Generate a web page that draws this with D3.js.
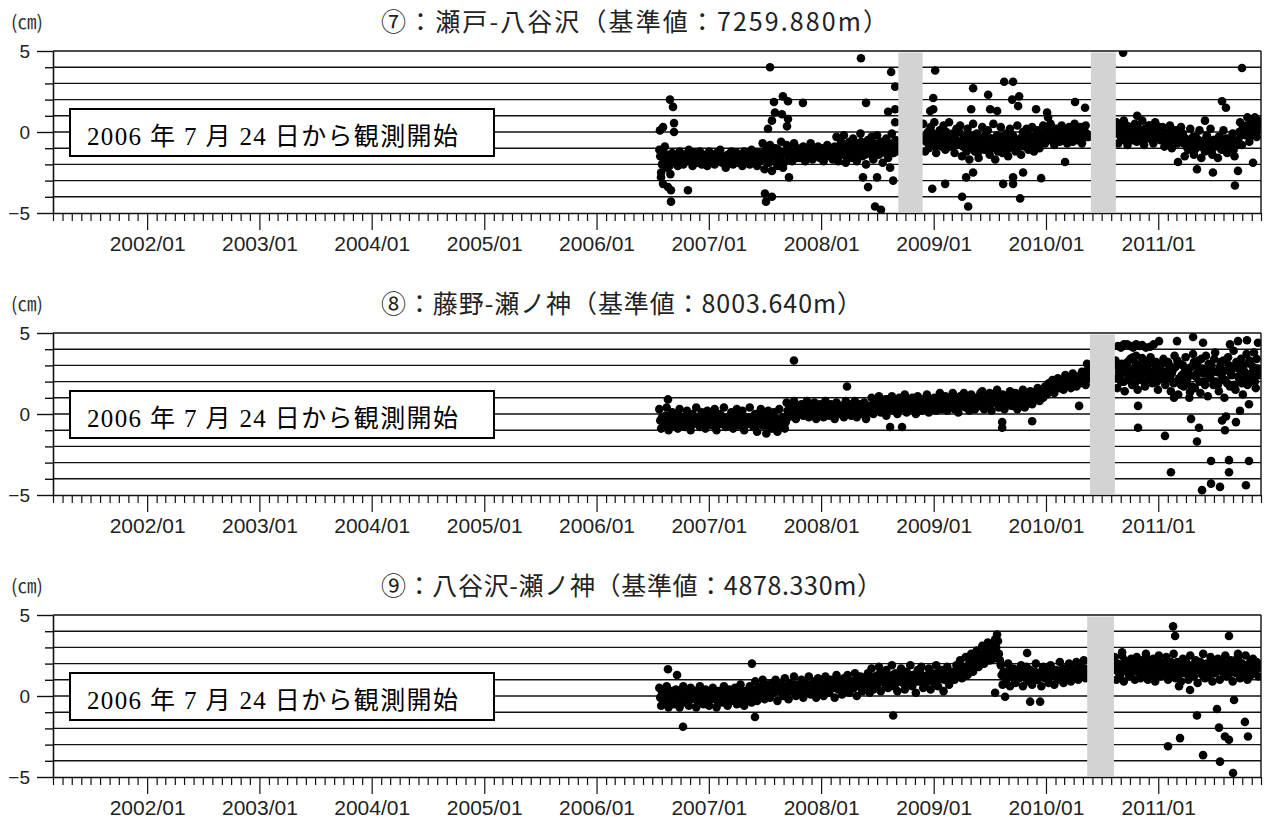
<!DOCTYPE html>
<html>
<head>
<meta charset="utf-8">
<script src="https://cdn.jsdelivr.net/npm/d3@7"></script>
<style>
body { margin: 0; background: #fff; }
</style>
</head>
<body>
<svg id="chart" width="1266" height="825"></svg>
<script>
// panel titles and note
var titles = ['⑦：瀬戸-八谷沢（基準値：7259.880m）',
              '⑧：藤野-瀬ノ神（基準値：8003.640m）',
              '⑨：八谷沢-瀬ノ神（基準値：4878.330m）'];
var noteText = '2006 年 7 月 24 日から観測開始';
var yTicks = [-5, -4, -3, -2, -1, 0, 1, 2, 3, 4, 5];

// observations every 6 days, one array per run between gaps (cm);
// the "b" arrays are the readings 3 days later
var p7Starts = ['2006-07-24', '2008-11-28', '2010-08-18'];
var p7Seg1 = [-1.1,-2.5,-1.6,-0.9,-2.2,-1.8,-2.6,
  -1.3,-1.9,-1.6,-2.1,-1.2,-1.7,-2.0,-1.4,-1.8,-1.1,
  -1.6,-2.1,-1.3,-1.9,-1.5,-1.2,-2.0,-1.7,-1.4,-2.1,
  -1.2,-1.8,-1.5,-2.0,-1.3,-1.7,-1.1,-1.9,-1.6,-2.2,
  -1.4,-1.8,-1.2,-2.0,-1.6,-1.3,-1.9,-1.5,-2.1,-1.2,
  -1.7,-1.4,-2.0,-1.1,-1.8,-1.5,-2.1,-1.3,-1.6,
  -0.7,-2.3,-1.2,-1.9,-0.8,-2.4,-1.5,-1.0,-2.1,-1.6,-0.6,-2.2,-1.3,
  -0.8,-1.7,-1.2,-1.8,-0.7,-1.4,-1.0,-1.6,-1.3,-0.9,
  -1.8,-1.1,-1.5,-0.7,-1.7,-1.2,-1.4,-0.9,-1.6,-1.0,
  -1.8,-1.3,-0.8,-1.5,-1.1,-1.7,-0.9,
  -0.3,-1.8,-0.8,-1.4,-0.2,-1.9,-1.1,-0.6,-1.6,-0.4,
  -1.2,-1.8,-0.7,-0.1,-1.5,-1.0,-2.0,-0.5,-1.3,-0.3,
  -1.7,-0.9,-0.2,-1.4,-0.6,-1.9,-1.1,-0.4,-1.6,-0.8,
  -0.1,-1.3,-0.5,-1.0];
var p7Seg1b = [-1.5,-2.0,-1.3,-1.8,-1.4,-2.1,-1.7,
  -1.7,-1.4,-1.8,-1.5,-1.6,-1.9,-1.4,-1.7,-1.5,-1.6,
  -1.4,-1.8,-1.7,-1.5,-1.9,-1.6,-1.4,-1.8,-1.5,-1.7,
  -1.6,-1.4,-1.9,-1.5,-1.8,-1.4,-1.6,-1.7,-1.5,-1.8,
  -1.6,-1.4,-1.7,-1.5,-1.9,-1.6,-1.4,-1.8,-1.5,-1.7,
  -1.5,-1.8,-1.4,-1.6,-1.7,-1.3,-1.6,-1.8,-1.4,
  -1.3,-1.7,-1.0,-1.9,-1.4,-1.2,-1.8,-1.5,-1.1,-1.7,-1.4,-1.9,-1.2,
  -1.3,-1.1,-1.5,-1.3,-1.2,-1.6,-1.4,-1.1,-1.5,-1.3,
  -1.4,-1.2,-1.6,-1.3,-1.1,-1.5,-1.2,-1.4,-1.3,-1.6,
  -1.2,-1.5,-1.1,-1.3,-1.4,-1.2,-1.5,
  -1.0,-1.3,-0.6,-1.1,-0.9,-1.5,-0.7,-1.2,-1.0,-1.4,
  -0.8,-1.1,-1.3,-0.6,-1.0,-1.4,-0.8,-1.2,-0.9,-1.5,
  -0.7,-1.1,-1.3,-0.9,-1.2,-0.6,-1.0,-1.4,-0.8,-1.1,
  -0.7,-1.0,-1.2,-0.6];
var p7Seg2 = [0.5,-1.2,-0.2,-1.0,0.3,-0.7,0.6,-1.3,-0.4,0.1,
  -0.9,0.4,-1.1,-0.3,0.6,-0.8,-0.1,-1.3,0.2,-0.6,
  0.4,-1.5,-0.3,-1.0,0.2,-1.7,-0.6,0.5,-1.2,-0.1,
  -1.6,-0.5,0.3,-1.1,-0.8,0.1,-1.4,-0.4,0.5,-1.7,
  -0.2,-1.0,0.3,-1.3,-0.6,-0.1,-1.5,0.2,-0.9,-0.3,
  -1.2,0.4,-0.7,-1.4,0.0,
  -0.9,0.2,-1.1,-0.3,0.3,-1.2,-0.6,0.1,-1.0,-0.2,
  0.4,-0.7,0.0,-0.5,0.5,-0.3,-0.8,0.2,-0.1,-0.6,
  0.4,-0.4,0.1,-0.7,0.3,-0.2,-0.6,0.5,0.0,-0.4,
  0.3,-0.7,-0.1,0.4,-0.3];
var p7Seg2b = [-0.3,-0.6,0.0,-0.8,-0.4,-0.1,-0.9,-0.2,-0.6,-0.5,
  -0.3,-0.7,0.0,-0.5,-0.9,-0.2,-0.6,-0.4,-0.8,0.0,
  -0.6,-0.9,-0.3,-1.2,-0.7,-0.2,-1.0,-0.5,-0.8,-1.3,
  -0.4,-0.9,-0.6,-0.2,-1.1,-0.7,-0.4,-1.0,-0.6,-0.8,
  -1.2,-0.5,-0.3,-0.9,-0.6,-1.1,-0.4,-0.8,-0.2,-0.7,
  -1.0,-0.5,-0.9,-0.3,-0.6,
  -0.5,-0.7,-0.2,-0.8,-0.4,-0.6,-0.1,-0.9,-0.5,-0.3,
  -0.2,0.1,-0.4,-0.1,-0.3,0.2,-0.5,-0.2,0.1,-0.3,
  -0.1,-0.5,0.0,-0.2,-0.4,0.1,-0.3,-0.1,-0.5,0.2,
  -0.2,-0.4,0.0,-0.1,-0.3];
var p7Seg3 = [0.6,-0.7,0.1,-0.4,0.7,-0.2,-0.8,0.3,0.0,-0.5,
  0.5,-0.6,0.2,-0.3,0.7,-0.8,0.1,-0.4,0.4,-0.1,
  -0.7,0.6,-0.2,0.3,-0.5,
  0.3,-0.9,-0.1,-0.6,0.4,-1.0,-0.3,0.1,-0.7,-0.2,0.3,
  -0.1,-1.5,-0.5,-1.1,0.2,-0.8,-1.4,-0.3,-0.9,0.1,
  -1.6,-0.6,-1.2,-0.2,-1.0,0.2,-1.4,-0.5,-0.8,-1.6,
  -0.3,-1.1,0.1,-0.7,-1.3,-0.4,-1.0,-0.1,-1.5,-0.6,
  -0.5,0.6,-0.8,0.3,-0.2,0.9,-0.6,0.5,0.0,0.9,-0.3,0.7];
var p7Seg3b = [-0.1,0.3,-0.3,0.1,-0.5,0.4,-0.2,0.0,-0.4,0.2,
  -0.1,0.3,-0.3,0.0,-0.5,0.2,-0.2,0.4,-0.4,0.1,
  -0.1,-0.3,0.3,-0.2,0.1,
  -0.4,-0.1,-0.6,0.0,-0.3,-0.5,0.1,-0.4,-0.2,-0.6,-0.1,
  -0.7,-0.4,-1.0,-0.6,-0.8,-0.3,-1.1,-0.7,-0.5,-0.9,
  -0.6,-1.0,-0.4,-0.8,-0.6,-1.2,-0.5,-0.9,-0.7,-0.3,
  -1.0,-0.6,-0.8,-0.4,-0.9,-0.7,-0.5,-1.1,-0.6,-0.8,
  0.0,-0.2,0.3,-0.1,0.4,0.1,0.2,-0.2,0.5,0.3,0.1,0.4];
// scattered readings [decimal year, cm]
var p7Outliers = [[2006.565,0.1],[2006.592,0.3],[2006.690,0.55],[2006.690,0.0],[2006.654,2.0],[2006.681,1.55],
  [2006.574,-2.8],[2006.592,-3.2],[2006.636,-3.4],[2006.663,-3.6],[2006.663,-4.3],[2006.814,-3.6],
  [2007.527,0.2],[2007.562,0.7],[2007.580,1.85],[2007.589,1.2],[2007.660,2.2],[2007.705,1.9],
  [2007.651,1.1],[2007.705,0.8],[2007.696,0.35],[2007.838,1.8],[2007.545,4.0],
  [2007.500,-3.8],[2007.562,-4.0],[2007.509,-4.3],[2007.714,-2.8],
  [2008.354,4.55],[2008.622,3.7],[2008.658,2.8],[2008.399,1.8],[2008.595,1.25],[2008.658,1.4],[2008.658,0.6],
  [2008.372,-2.8],[2008.417,-3.4],[2008.497,-2.8],[2008.479,-4.6],[2008.532,-4.8],[2008.613,-2.2],[2008.640,-3.0],
  [2009.013,3.8],[2008.987,-3.5],[2009.102,-3.2],[2009.253,-4.0],[2009.307,-4.6],[2009.351,2.7],[2009.485,2.3],
  [2009.628,3.1],[2009.707,3.1],[2008.996,2.1],[2008.996,1.4],[2008.969,1.3],
  [2009.699,2.0],[2009.761,2.2],[2009.752,1.6],[2009.334,1.4],[2009.503,1.4],[2009.565,1.3],[2009.912,1.4],
  [2010.010,1.2],[2010.019,0.9],[2010.259,1.85],[2010.348,1.5],
  [2009.289,-2.8],[2009.619,-3.2],[2009.707,-3.2],[2009.770,-4.1],[2009.957,-2.85],[2009.796,-2.5],
  [2009.707,-2.8],[2010.170,-1.85],[2009.351,-2.5],
  [2010.687,4.9],[2011.746,3.95],[2011.568,1.9],[2011.603,1.5],[2011.416,0.7],[2010.812,1.0],
  [2011.683,-3.3],[2011.487,-2.5],[2011.345,-2.3],[2011.176,-1.85],[2011.844,-1.9],[2011.710,-2.4]];
var p7Gaps = [['2008-09-08', '2008-11-26'], ['2010-05-27', '2010-08-16']];

var p8Starts = ['2006-07-24', '2010-08-15'];
var p8Seg1 = [0.3,-0.9,-0.2,-0.6,0.4,-1.0,-0.4,0.1,-0.7,-0.1,
  -0.9,0.3,-0.5,-0.2,-0.8,0.2,-0.3,-1.0,0.0,-0.6,
  0.4,-0.4,-0.8,0.1,-0.2,-0.9,0.2,-0.5,-0.1,-0.7,
  0.3,-1.0,-0.3,0.0,-0.6,0.4,-0.8,-0.2,-0.5,0.1,
  -0.9,-0.1,0.3,-0.7,-0.4,0.2,-1.0,-0.2,-0.6,0.4,
  -0.3,-0.8,0.0,-1.1,-0.4,0.3,-0.7,-0.1,-1.2,0.2,
  -0.5,-0.9,0.1,-0.3,-1.1,0.3,-0.6,-0.2,-0.9,
  0.7,-0.2,0.3,0.0,0.8,-0.3,0.4,0.1,0.6,-0.1,
  0.2,0.8,-0.2,0.5,0.0,0.7,-0.3,0.3,0.6,0.1,
  -0.2,0.8,0.4,-0.1,0.6,0.2,-0.3,0.7,0.0,0.5,
  0.3,-0.2,0.8,0.1,0.6,-0.1,0.4,0.8,-0.2,0.2,
  0.6,0.0,0.7,-0.3,0.4,0.1,
  1.0,0.0,0.6,0.3,1.1,0.1,0.8,0.4,-0.1,0.9,
  0.5,1.1,0.2,0.7,0.0,1.0,0.4,0.6,1.2,0.1,
  0.8,0.3,1.0,0.5,0.0,1.1,0.6,0.2,0.9,0.4,
  1.2,0.1,0.7,0.5,1.0,0.2,0.8,1.3,0.3,0.6,
  1.1,0.2,0.9,0.5,1.3,0.3,0.8,0.1,1.1,0.6,
  1.3,0.4,0.9,0.2,1.2,0.7,0.3,1.0,0.5,1.3,
  1.4,0.3,0.9,0.6,1.3,0.2,1.0,0.7,1.5,0.4,
  0.8,1.2,0.3,1.1,0.6,1.4,0.5,0.9,1.3,0.3,
  1.0,0.7,1.5,0.4,1.2,0.8,1.4,0.6,1.1,0.9,
  1.6,0.8,1.3,1.0,1.7,
  1.2,1.9,1.5,2.1,1.3,1.8,2.2,1.6,2.0,1.5,
  2.4,1.8,2.1,1.6,2.5,2.0,1.7,2.3,1.9,2.6,
  2.1,1.8,2.7,2.2];
var p8Seg1b = [-0.4,-0.2,-0.6,-0.1,-0.5,-0.3,-0.7,-0.2,-0.4,-0.5,
  -0.1,-0.6,-0.3,-0.5,-0.2,-0.4,-0.7,-0.1,-0.3,-0.5,
  -0.2,-0.6,-0.4,-0.1,-0.5,-0.3,-0.6,-0.2,-0.4,-0.5,
  -0.1,-0.3,-0.6,-0.4,-0.2,-0.5,-0.3,-0.7,-0.1,-0.4,
  -0.5,-0.2,-0.6,-0.3,-0.1,-0.5,-0.4,-0.6,-0.2,-0.3,
  -0.5,-0.1,-0.4,-0.6,-0.2,-0.5,-0.3,-0.7,-0.4,-0.6,
  -0.2,-0.5,-0.7,-0.3,-0.6,-0.4,-0.8,-0.2,-0.5,
  0.2,0.4,0.1,0.5,0.3,0.2,0.5,0.0,0.3,0.4,
  0.1,0.3,0.5,0.2,0.4,0.0,0.3,0.5,0.1,0.4,
  0.2,0.3,0.0,0.5,0.2,0.4,0.1,0.3,0.5,0.2,
  0.4,0.1,0.3,0.5,0.2,0.3,0.0,0.4,0.2,0.5,
  0.3,0.1,0.4,0.2,0.5,0.3,
  0.5,0.7,0.3,0.8,0.5,0.6,0.4,0.9,0.6,0.3,
  0.7,0.5,0.8,0.4,0.6,0.3,0.8,0.5,0.7,0.4,
  0.6,0.9,0.5,0.3,0.7,0.6,0.8,0.4,0.6,0.7,
  0.5,0.9,0.4,0.7,0.6,0.8,0.5,0.6,0.9,0.4,
  0.7,0.6,0.8,0.5,0.7,0.9,0.6,0.4,0.8,0.7,
  0.9,0.6,0.8,0.5,0.7,1.0,0.6,0.8,0.7,0.9,
  0.8,1.0,0.6,1.1,0.9,0.7,1.2,0.8,1.0,0.7,
  1.1,0.9,0.6,1.0,0.8,1.2,0.9,0.7,1.0,0.8,
  1.2,0.9,1.1,0.7,1.0,1.3,0.9,1.1,1.2,1.4,
  1.1,1.3,1.5,1.2,1.4,
  1.6,1.4,1.8,1.7,1.6,2.0,1.8,1.9,1.7,2.1,
  1.9,2.2,2.0,1.8,2.1,2.3,2.2,2.0,2.4,2.1,
  2.3,2.5,2.2,2.4];
var p8Seg2 = [3.3,1.6,2.6,2.0,3.0,1.4,2.8,2.3,3.4,1.8,
  2.5,3.1,1.5,2.7,2.1,3.3,1.7,2.9,2.4,3.5,
  1.9,2.6,3.2,1.5,2.8,2.2,3.4,1.8,2.5,3.0,
  1.4,2.7,3.6,2.0,1.2,3.1,2.4,1.7,3.5,2.2,
  1.0,2.9,3.7,1.6,2.5,3.3,1.3,2.8,2.0,3.6,
  1.1,2.3,3.0,1.8,3.8,2.6,1.4,3.2,2.1,1.0,
  2.7,3.5,1.7,2.4,3.9,1.5,2.9,2.2,3.4,1.2,
  2.6,3.7,1.9,3.1,2.3,3.8,1.6,2.8];
var p8Seg2b = [2.2,2.9,2.4,3.1,2.0,2.6,3.2,2.1,2.7,2.4,
  1.9,2.8,2.3,3.0,2.5,2.0,2.8,3.2,2.2,2.6,
  2.4,3.0,2.0,2.7,2.3,3.1,2.1,2.6,3.2,2.2,
  2.5,1.9,2.9,3.3,2.2,1.8,3.0,2.6,2.0,2.8,
  2.4,1.7,3.2,2.3,2.9,2.0,3.4,2.5,1.8,2.7,
  3.1,2.2,2.6,3.4,2.0,1.8,2.9,2.4,3.3,2.1,
  1.9,3.0,2.5,2.8,1.8,3.2,2.3,2.7,1.9,3.0,
  2.2,1.8,3.3,2.5,2.9,2.0,3.4,2.4];
var p8Outliers = [[2006.636,0.9],[2007.758,3.3],[2008.230,1.7],[2008.613,-0.8],[2008.719,-0.8],
  [2009.610,-0.5],[2009.610,-0.85],[2009.877,-0.45],[2010.295,0.5],[2010.366,3.1],
  [2010.642,4.2],[2010.668,4.1],[2010.695,4.3],[2010.722,4.3],[2010.749,4.2],[2010.776,4.1],
  [2010.803,4.3],[2010.830,4.2],[2010.856,4.25],[2010.890,4.1],[2010.927,4.15],[2010.960,4.3],
  [2010.776,3.5],[2010.803,3.6],[2010.856,3.45],
  [2011.007,4.5],[2011.167,4.5],[2011.310,4.75],[2011.399,4.4],[2011.639,4.3],[2011.710,4.5],
  [2011.790,4.55],[2011.888,4.4],
  [2010.820,0.5],[2010.820,-0.85],[2011.060,-1.35],[2011.345,-1.7],[2011.292,-0.3],[2011.363,-0.85],
  [2011.568,-0.4],[2011.594,-1.0],[2011.692,-0.5],[2011.728,0.2],[2011.603,-0.15],[2011.140,1.0],
  [2011.283,1.35],[2011.808,0.6],[2011.470,-2.9],[2011.630,-2.85],[2011.808,-2.9],[2011.113,-3.6],
  [2011.630,-3.6],[2011.470,-4.3],[2011.550,-4.5],[2011.781,-4.4],[2011.390,-4.7]];
var p8Gaps = [['2010-05-24', '2010-08-13']];

var p9Starts = ['2006-07-24', '2010-08-12'];
var p9Seg1 = [0.5,-0.6,0.1,-0.3,0.6,-0.7,0.0,0.3,-0.5,0.4,
  -0.2,-0.7,0.2,0.6,-0.4,0.0,-0.6,0.5,-0.1,0.3,
  -0.7,0.1,0.6,-0.3,-0.5,0.4,0.0,-0.6,0.2,0.5,
  -0.2,-0.7,0.3,0.1,-0.4,0.6,-0.1,-0.6,0.4,0.0,
  -0.3,0.5,-0.5,0.2,0.7,-0.2,-0.6,0.3,0.0,0.6,
  -0.4,0.2,
  0.9,-0.3,0.5,0.1,1.0,-0.2,0.6,0.3,-0.1,0.8,
  0.2,1.0,-0.3,0.5,0.7,0.0,1.1,0.3,-0.2,0.7,
  0.4,1.2,0.0,0.6,0.2,1.0,-0.1,0.8,0.4,1.2,
  0.1,0.6,0.9,-0.1,1.1,0.3,0.7,0.0,1.2,0.5,
  0.2,1.0,0.6,-0.1,1.3,0.4,0.8,0.1,1.1,0.6,
  1.3,0.2,0.9,0.5,1.4,0.0,0.7,1.2,0.3,1.0,
  0.6,1.4,0.2,
  1.7,0.4,1.1,0.7,1.8,0.3,1.3,0.9,1.6,0.5,
  1.0,1.9,0.6,1.4,0.3,1.2,1.7,0.8,0.4,1.5,
  1.1,1.9,0.6,1.3,0.2,1.6,0.9,1.8,0.5,1.2,
  1.0,1.7,0.4,1.4,0.8,1.9,0.6,1.1,1.6,0.3,
  1.3,1.8,0.7,1.2,1.5,
  1.0,1.9,1.4,2.2,1.1,1.7,2.4,1.3,2.0,2.6,
  1.5,2.3,2.8,1.8,2.5,3.1,2.0,2.7,3.3,2.2,
  3.0,2.3,3.5,3.8,2.6,
  1.9,0.7,1.4,1.0,2.0,0.6,1.2,1.7,0.8,1.5,
  1.1,1.9,0.6,1.3,1.8,0.9,1.6,0.7,1.2,2.0,
  1.0,1.4,0.6,1.8,1.1,1.5,0.8,1.9,1.3,0.7,
  1.6,1.0,2.1,1.2,0.8,1.7,1.4,2.0,0.9,1.6,
  1.2,2.1,1.0,1.8,1.4,2.2,1.1];
var p9Seg1b = [-0.1,0.2,-0.3,0.1,-0.2,0.3,-0.4,0.0,0.2,-0.2,
  0.1,0.3,-0.3,-0.1,0.2,-0.4,0.1,-0.2,0.3,0.0,
  -0.3,0.2,-0.1,0.1,0.3,-0.2,-0.4,0.0,0.2,-0.1,
  0.3,-0.3,0.0,0.2,-0.2,0.1,-0.4,0.3,-0.1,0.0,
  0.2,-0.3,0.1,-0.1,0.3,0.0,-0.2,0.2,-0.3,0.1,
  0.0,0.3,
  0.3,0.5,0.1,0.6,0.2,0.4,0.7,0.3,0.5,0.2,
  0.6,0.4,0.3,0.7,0.2,0.5,0.4,0.6,0.8,0.3,
  0.5,0.7,0.4,0.2,0.6,0.5,0.8,0.3,0.6,0.4,
  0.7,0.5,0.3,0.8,0.6,0.4,0.7,0.5,0.9,0.6,
  0.4,0.8,0.5,0.7,0.9,0.6,0.5,0.8,0.4,0.7,
  0.9,0.6,0.8,0.5,1.0,0.7,0.6,0.9,0.8,0.5,
  1.0,0.7,0.8,
  1.0,1.2,0.8,1.3,1.0,0.9,1.4,0.7,1.1,1.2,
  0.9,1.3,1.0,0.8,1.2,1.1,0.9,1.4,1.0,1.2,
  0.8,1.1,1.3,1.0,0.9,1.2,1.4,1.0,1.1,0.8,
  1.3,1.0,1.2,0.9,1.1,1.4,1.0,1.3,1.1,1.0,
  1.2,0.9,1.3,1.1,1.4,
  1.3,1.6,1.2,1.5,1.8,1.4,1.7,1.9,1.6,2.2,
  1.9,2.1,2.4,2.2,2.0,2.6,2.3,2.9,2.5,2.8,
  3.2,2.7,3.0,3.4,2.2,
  1.3,1.5,1.1,1.4,1.6,1.2,1.4,1.0,1.3,1.6,
  1.2,1.5,1.3,1.1,1.4,1.6,1.2,1.3,1.5,1.0,
  1.4,1.2,1.6,1.3,1.1,1.5,1.2,1.4,1.6,1.3,
  1.5,1.2,1.4,1.7,1.3,1.5,1.1,1.6,1.4,1.3,
  1.7,1.5,1.4,1.6,1.3,1.7,1.5];
var p9Seg2 = [2.4,1.0,1.8,1.3,2.5,0.9,1.6,2.1,1.2,2.3,
  1.5,1.0,2.4,1.7,1.1,2.2,1.4,2.6,1.0,1.9,
  1.3,2.3,0.9,1.7,2.5,1.2,2.0,1.5,2.4,1.0,
  1.8,1.3,2.6,1.1,2.1,1.6,0.9,2.3,1.4,2.0,
  1.0,2.5,1.7,1.2,2.2,0.8,1.9,1.5,2.6,1.1,
  2.0,1.3,2.4,0.9,1.8,1.5,2.3,1.0,2.1,1.4,
  2.5,1.2,1.7,2.2,0.9,1.9,1.4,2.4,1.1,2.0,
  1.6,2.5,1.0,1.8,1.3,2.3,1.5,2.1,1.2];
var p9Seg2b = [1.6,2.0,1.4,1.9,1.7,2.2,1.5,1.8,1.3,2.0,
  1.8,2.1,1.5,1.7,2.0,1.4,1.9,1.6,2.2,1.7,
  1.5,1.9,1.8,1.3,2.1,1.6,1.8,2.0,1.4,1.7,
  2.1,1.5,1.9,1.7,1.3,2.0,1.8,1.5,2.2,1.6,
  1.9,1.4,1.8,2.0,1.6,1.7,2.1,1.3,1.9,1.8,
  1.5,2.0,1.7,2.2,1.4,1.9,1.6,1.8,2.1,1.5,
  1.7,2.0,1.4,1.9,1.6,2.2,1.5,1.8,2.0,1.7,
  1.4,1.9,1.6,2.1,1.8,1.5,2.0,1.7,1.9];
var p9Outliers = [[2006.636,1.65],[2006.717,1.3],[2006.770,-1.9],[2007.384,2.0],[2007.411,-1.3],
  [2008.640,-1.2],[2009.547,0.2],[2009.636,-0.05],[2009.832,2.65],[2009.859,-0.35],[2009.948,-0.35],
  [2010.678,2.7],[2011.132,4.3],[2011.150,3.7],[2011.630,3.7],[2011.710,2.6],[2011.185,0.6],
  [2011.283,0.37],[2011.345,-1.2],[2011.523,-0.8],[2011.541,-1.95],[2011.675,-0.25],[2011.772,-1.6],
  [2011.799,-2.5],[2011.194,-2.6],[2011.087,-3.1],[2011.594,-2.5],[2011.630,-2.7],[2011.399,-3.65],
  [2011.550,-4.05],[2011.666,-4.75]];
var p9Gaps = [['2010-05-15', '2010-08-10']];

var panels = [
  {title: titles[0], titleLen: 507, starts: p7Starts, segs: [p7Seg1, p7Seg2, p7Seg3],
   segsB: [p7Seg1b, p7Seg2b, p7Seg3b], outliers: p7Outliers, gaps: p7Gaps},
  {title: titles[1], titleLen: 481, starts: p8Starts, segs: [p8Seg1, p8Seg2],
   segsB: [p8Seg1b, p8Seg2b], outliers: p8Outliers, gaps: p8Gaps},
  {title: titles[2], titleLen: 501, starts: p9Starts, segs: [p9Seg1, p9Seg2],
   segsB: [p9Seg1b, p9Seg2b], outliers: p9Outliers, gaps: p9Gaps}
];

var svg = d3.select('#chart');
var left = 53, right = 1261, plotH = 162;
var tops = [51, 333, 615];
var parse = d3.timeParse('%Y-%m-%d');
var DAY = 864e5, STEP = 6;
var sansFont = "'Liberation Sans', Arial, sans-serif";
var jpFont = "'Noto Sans CJK JP', sans-serif";

var xScale = d3.scaleTime()
  .domain([new Date(2001, 2, 1), new Date(2011, 11, 1)])
  .range([left, right]);
var months = d3.timeMonth.range(new Date(2001, 2, 1), new Date(2011, 11, 2));

function fromYear(y) {
  var yr = Math.floor(y);
  var s = new Date(yr, 0, 1), e = new Date(yr + 1, 0, 1);
  return new Date(s.getTime() + (y - yr) * (e - s));
}

function points(p) {
  var pts = [];
  p.starts.forEach(function(start, k) {
    var t0 = parse(start).getTime();
    p.segs[k].forEach(function(v, i) {
      pts.push({date: new Date(t0 + i * STEP * DAY), v: v});
    });
    p.segsB[k].forEach(function(v, i) {
      pts.push({date: new Date(t0 + (i * STEP + STEP / 2) * DAY), v: v});
    });
  });
  p.outliers.forEach(function(o) {
    pts.push({date: fromYear(o[0]), v: o[1]});
  });
  return pts;
}

var defs = svg.append('defs');

panels.forEach(function(p, idx) {
  var g = svg.append('g').attr('transform', 'translate(0,' + tops[idx] + ')');
  var yScale = d3.scaleLinear().domain([-5, 5]).range([plotH, 0]);

  // titles
  g.append('text')
    .attr('x', 11).attr('y', -31)
    .attr('dominant-baseline', 'central')
    .style('font-family', jpFont).style('font-size', '19px').style('fill', '#333')
    .text('(㎝)');
  g.append('text')
    .attr('x', 381).attr('y', -31)
    .attr('dominant-baseline', 'central')
    .attr('textLength', p.titleLen).attr('lengthAdjust', 'spacing')
    .style('font-family', jpFont).style('font-size', '25px').style('fill', '#222')
    .text(p.title);

  // horizontal grid
  g.selectAll('.grid').data(d3.range(-4, 6)).enter()
    .append('line').attr('class', 'grid')
    .attr('x1', left).attr('x2', right)
    .attr('y1', function(d) { return yScale(d); })
    .attr('y2', function(d) { return yScale(d); })
    .attr('stroke', '#111').attr('stroke-width', 1.4);

  defs.append('clipPath').attr('id', 'clip' + idx)
    .append('rect').attr('x', left).attr('y', 0).attr('width', right - left).attr('height', plotH);

  g.append('g').attr('clip-path', 'url(#clip' + idx + ')')
    .selectAll('circle').data(points(p)).enter()
    .append('circle')
    .attr('cx', function(d) { return xScale(d.date); })
    .attr('cy', function(d) { return yScale(d.v); })
    .attr('r', 4.3)
    .attr('fill', '#000');

  // missing-data bands
  g.selectAll('.gap').data(p.gaps).enter()
    .append('rect').attr('class', 'gap')
    .attr('x', function(d) { return xScale(parse(d[0])); })
    .attr('width', function(d) { return xScale(parse(d[1])) - xScale(parse(d[0])); })
    .attr('y', 1.5).attr('height', plotH - 2.5)
    .attr('fill', '#d3d3d3');

  // right border
  g.append('line').attr('x1', right).attr('x2', right).attr('y1', 0).attr('y2', plotH)
    .attr('stroke', '#111').attr('stroke-width', 1.4);

  // x axis
  var xAxis = d3.axisBottom(xScale)
    .tickValues(months)
    .tickSizeInner(8).tickSizeOuter(0)
    .tickFormat(function(d) {
      return (d.getMonth() === 0) ? d3.timeFormat('%Y/%m')(d) : '';
    });
  var xg = g.append('g').attr('transform', 'translate(0,' + plotH + ')').call(xAxis);
  xg.select('.domain').attr('stroke', '#111').attr('stroke-width', 1.6);
  xg.selectAll('.tick line').attr('stroke', '#111').attr('stroke-width', 1.2)
    .attr('y2', function(d) { return d.getMonth() === 0 ? 17 : 8; });
  xg.selectAll('.tick text').attr('y', 23)
    .style('font-family', sansFont).style('font-size', '21px').style('fill', '#222');

  // y axis
  var yAxis = d3.axisLeft(yScale)
    .tickValues(yTicks)
    .tickSizeInner(8).tickSizeOuter(0)
    .tickFormat(function(d) { return d % 5 === 0 ? (d < 0 ? '−' + (-d) : String(d)) : ''; });
  var yg = g.append('g').attr('transform', 'translate(' + left + ',0)').call(yAxis);
  yg.select('.domain').attr('stroke', '#111').attr('stroke-width', 1.6);
  yg.selectAll('.tick line').attr('stroke', '#111').attr('stroke-width', 1.4)
    .attr('x2', function(d) { return d % 5 === 0 ? -16 : -8; });
  yg.selectAll('.tick text').attr('x', -23)
    .style('font-family', sansFont).style('font-size', '19px').style('fill', '#222');

  // note box
  g.append('rect')
    .attr('x', 70).attr('y', 58).attr('width', 424).attr('height', 47)
    .attr('fill', '#fff').attr('stroke', '#000').attr('stroke-width', 2);
  g.append('text')
    .attr('x', 87).attr('y', 85)
    .attr('dominant-baseline', 'central')
    .attr('textLength', 371).attr('lengthAdjust', 'spacing')
    .style('font-family', "'Liberation Serif', 'Noto Sans CJK JP', serif")
    .style('font-size', '25px').style('fill', '#000')
    .text(noteText);
});
</script>
</body>
</html>
